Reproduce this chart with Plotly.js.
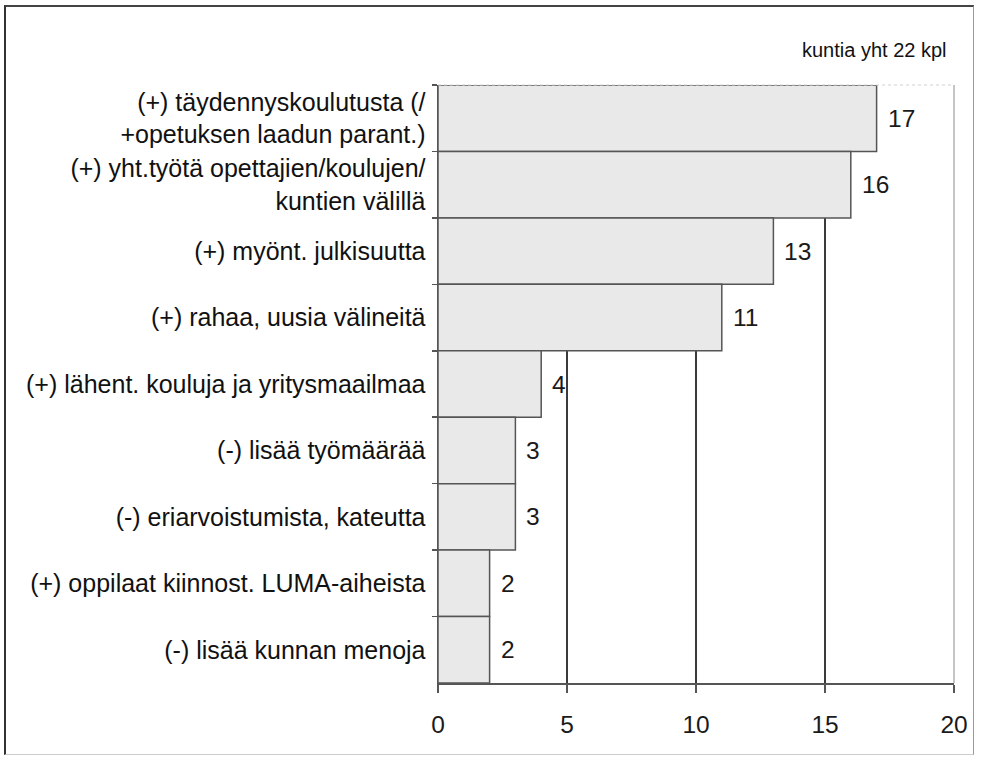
<!DOCTYPE html>
<html>
<head>
<meta charset="utf-8">
<script src="https://cdn.plot.ly/plotly-3.0.1.min.js"></script>
<style>
  html, body { margin: 0; padding: 0; background: #ffffff; }
  #wrap { position: relative; width: 981px; height: 758px; }
  #chart { position: absolute; left: 0; top: 0; width: 981px; height: 758px; }
  #frame { position: absolute; left: 4px; top: 5px; width: 970px; height: 750px;
           border-left: 2px solid #333; border-top: 2px solid #444;
           border-right: 1px solid #999; border-bottom: 1px solid #ccc;
           box-sizing: border-box; pointer-events: none; }
</style>
</head>
<body>
<div id="wrap">
  <div id="chart"></div>
  <div id="frame"></div>
</div>
<script>
// ---- data ----
const categories = [
  "(+) täydennyskoulutusta (/<br>+opetuksen laadun parant.)",
  "(+) yht.työtä opettajien/koulujen/<br>kuntien välillä",
  "(+) myönt. julkisuutta",
  "(+) rahaa, uusia välineitä",
  "(+) lähent. kouluja ja yritysmaailmaa",
  "(-) lisää työmäärää",
  "(-) eriarvoistumista, kateutta",
  "(+) oppilaat kiinnost. LUMA-aiheista",
  "(-) lisää kunnan menoja"
];
const counts = [17, 16, 13, 11, 4, 3, 3, 2, 2];
const xTickValues = [0, 5, 10, 15, 20];
const noteText = "kuntia yht 22 kpl";

// ---- chart ----
const trace = {
  type: "bar",
  orientation: "h",
  x: counts,
  y: categories,
  marker: { color: "#e9e9e9", line: { color: "#555555", width: 1.5 } },
  hoverinfo: "x+y"
};

const valueLabels = counts.map((v, i) => ({
  x: v, y: categories[i], xref: "x", yref: "y",
  text: String(v), showarrow: false,
  xanchor: "left", yanchor: "middle", xshift: 9,
  font: { family: "Liberation Sans, Arial, sans-serif", size: 24.5, color: "#1a1a1a" }
}));

const layout = {
  width: 981, height: 758,
  margin: { l: 438, r: 27, t: 85, b: 75 },
  paper_bgcolor: "#ffffff",
  plot_bgcolor: "#ffffff",
  showlegend: false,
  bargap: 0,
  font: { family: "Liberation Sans, Arial, sans-serif", color: "#111111" },
  xaxis: {
    range: [0, 20],
    tickvals: xTickValues,
    ticktext: xTickValues.map(String),
    showgrid: true, gridcolor: "#3a3a3a", gridwidth: 1.3,
    zeroline: false,
    showline: true, linecolor: "#555555", linewidth: 1.5,
    ticks: "outside", ticklen: 8, tickcolor: "#555555", tickwidth: 1.5,
    ticklabelstandoff: 11,
    tickfont: { size: 24.5, color: "#1a1a1a" },
    fixedrange: true
  },
  yaxis: {
    type: "category",
    categoryorder: "array",
    categoryarray: categories,
    autorange: "reversed",
    showgrid: false, zeroline: false,
    showline: true, linecolor: "#555555", linewidth: 1.5,
    ticks: "outside", tickson: "boundaries", ticklen: 5, tickcolor: "#555555", tickwidth: 1.5,
    ticklabelstandoff: 6,
    tickfont: { size: 25, color: "#111111" },
    fixedrange: true
  },
  shapes: [
    { type: "line", xref: "paper", yref: "paper", x0: 1, x1: 1, y0: 0, y1: 1,
      line: { color: "#8a8a8a", width: 1 } },
    { type: "line", xref: "paper", yref: "paper", x0: 0, x1: 1, y0: 1, y1: 1,
      line: { color: "#cfcfcf", width: 1, dash: "dot" } }
  ],
  annotations: valueLabels.concat([
    { xref: "paper", yref: "paper", x: 1, y: 1, xanchor: "right", yanchor: "middle",
      xshift: -5, yshift: 35,
      text: noteText, showarrow: false,
      font: { family: "Liberation Sans, Arial, sans-serif", size: 20, color: "#111111" } }
  ])
};

Plotly.newPlot("chart", [trace], layout, { displayModeBar: false, staticPlot: true });
</script>
</body>
</html>
